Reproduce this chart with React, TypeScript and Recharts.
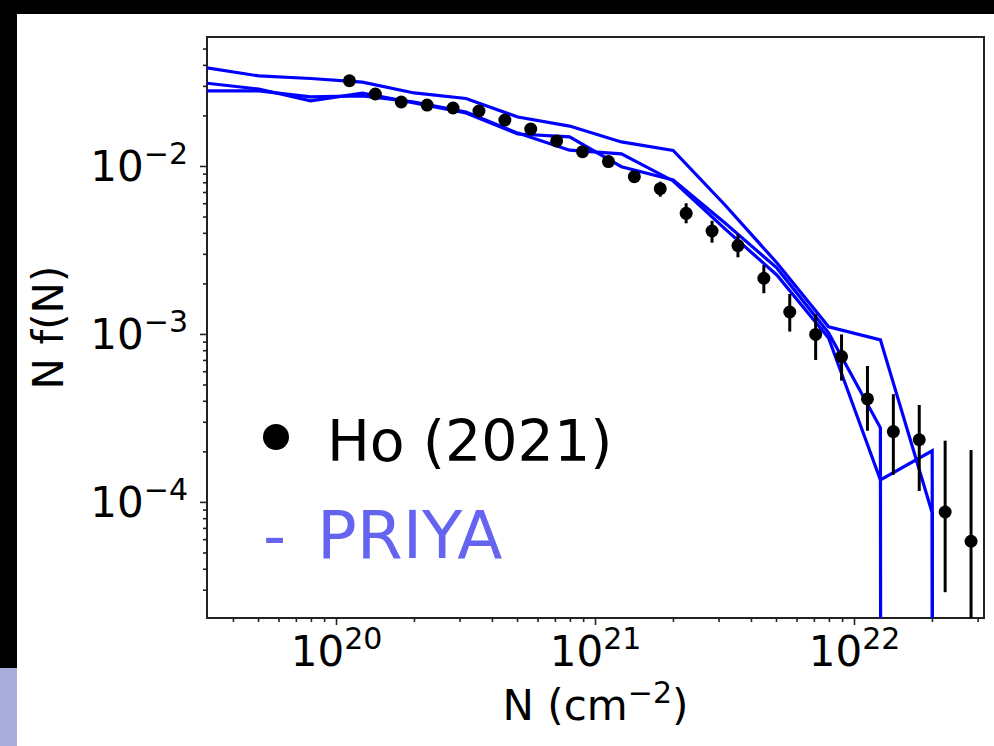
import React from 'react';
import { ComposedChart, Line, Scatter, XAxis, YAxis, ErrorBar, ReferenceArea, Label } from 'recharts';

// Ho (2021) measurements: log10 N, N f(N), and the error bar ends
const hoLogN = [20.05, 20.15, 20.25, 20.35, 20.45, 20.55, 20.65, 20.75, 20.85, 20.95, 21.05, 21.15, 21.25,
  21.35, 21.45, 21.55, 21.65, 21.75, 21.85, 21.95, 22.05, 22.15, 22.25, 22.35, 22.45];
const hoF = [0.0324, 0.027, 0.0242, 0.0232, 0.0223, 0.0214, 0.0189, 0.0167, 0.0142, 0.01225, 0.0107, 0.00869,
  0.00738, 0.00526, 0.00413, 0.00338, 0.00216, 0.00136, 0.001, 0.000738, 0.000413, 0.000264, 0.000236,
  0.0000877, 0.0000587];
const hoLo = [0.031, 0.0259, 0.0233, 0.0223, 0.0214, 0.0205, 0.0181, 0.0159, 0.0134, 0.0114, 0.01, 0.00801,
  0.00661, 0.00459, 0.00352, 0.00288, 0.00176, 0.00104, 0.000705, 0.000531, 0.000267, 0.000146, 0.000117,
  0.0000292, 0.0000205];
const hoHi = [0.0338, 0.0281, 0.0251, 0.0241, 0.0232, 0.0223, 0.0197, 0.0175, 0.015, 0.0131, 0.0114, 0.0094,
  0.00812, 0.00604, 0.00475, 0.00394, 0.00259, 0.00174, 0.00132, 0.001, 0.000649, 0.000441, 0.00038,
  0.000233, 0.000205];

// PRIYA simulation curves (0 = empty bin)
const priyaLogN = [19.5, 19.7, 19.9, 20.1, 20.3, 20.5, 20.7, 20.9, 21.1, 21.3, 21.5, 21.7, 21.9, 22.1, 22.3, 22.5];
const priyaA = [0.0386, 0.0346, 0.0334, 0.0318, 0.0274, 0.0254, 0.0197, 0.0174, 0.014, 0.01245, 0.0059, 0.00267,
  0.00111, 0.000928, 0.0000866, 0];
const priyaB = [0.0313, 0.0289, 0.0246, 0.0273, 0.0239, 0.0208, 0.0156, 0.015, 0.00997, 0.00831, 0.00461,
  0.00249, 0.00102, 0.000278, 0, 0];
const priyaC = [0.0282, 0.0282, 0.026, 0.0263, 0.0242, 0.0211, 0.0158, 0.0125, 0.0119, 0.0082, 0.00425,
  0.00226, 0.000953, 0.000136, 0.000203, 0];

const xTicks = [4e19, 5e19, 6e19, 7e19, 8e19, 9e19, 1e20, 2e20, 3e20, 4e20, 5e20, 6e20, 7e20, 8e20, 9e20,
  1e21, 2e21, 3e21, 4e21, 5e21, 6e21, 7e21, 8e21, 9e21, 1e22, 2e22, 3e22];
const yTicks = [3e-5, 4e-5, 5e-5, 6e-5, 7e-5, 8e-5, 9e-5, 1e-4, 2e-4, 3e-4, 4e-4, 5e-4, 6e-4, 7e-4, 8e-4, 9e-4,
  1e-3, 2e-3, 3e-3, 4e-3, 5e-3, 6e-3, 7e-3, 8e-3, 9e-3, 1e-2, 2e-2, 3e-2, 4e-2, 5e-2];

const X_DOMAIN = [10 ** 19.5, 10 ** 22.5];
const Y_DOMAIN = [2.05e-5, 0.059];
const ZERO_FLOOR = 1e-300; // log axis can't show 0, matplotlib clips it the same way

const FONT = '"DejaVu Sans", sans-serif';

const hoData = hoLogN.map((e, i) => ({
  n: 10 ** e,
  f: hoF[i],
  err: [hoF[i] - hoLo[i], hoHi[i] - hoF[i]],
}));
const toLine = (vals: number[]) =>
  priyaLogN.map((e, i) => ({ n: 10 ** e, f: vals[i] > 0 ? vals[i] : ZERO_FLOOR }));
const priyaLines = [toLine(priyaA), toLine(priyaB), toLine(priyaC)];

const isMajor = (v: number) => {
  const l = Math.log10(v);
  return Math.abs(l - Math.round(l)) < 1e-6;
};
const expText = (v: number) => {
  const e = Math.round(Math.log10(v));
  return e < 0 ? `\u2212${-e}` : `${e}`;
};

const XTick = (props: any) => {
  const { x, y, payload } = props;
  const major = isMajor(payload.value);
  return (
    <g>
      <line x1={x} y1={y} x2={x} y2={y + (major ? 7 : 4)} stroke="#222" strokeWidth={1.6} />
      {major && (
        <text x={x} y={y + 48} textAnchor="middle" fontSize={42} fontFamily={FONT} fill="#000">
          <tspan>10</tspan>
          <tspan dy={-17} fontSize={30}>{expText(payload.value)}</tspan>
        </text>
      )}
    </g>
  );
};

const YTick = (props: any) => {
  const { x, y, payload } = props;
  const major = isMajor(payload.value);
  return (
    <g>
      <line x1={x} y1={y} x2={x - (major ? 7 : 4)} y2={y} stroke="#222" strokeWidth={1.6} />
      {major && (
        <text x={x - 19} y={y + 15} textAnchor="end" fontSize={42} fontFamily={FONT} fill="#000">
          <tspan>10</tspan>
          <tspan dy={-17} fontSize={30}>{expText(payload.value)}</tspan>
        </text>
      )}
    </g>
  );
};

const XLabel = (props: any) => {
  const { viewBox } = props;
  return (
    <text x={viewBox.x + viewBox.width / 2} y={viewBox.y + 102} textAnchor="middle" fontSize={42}
      fontFamily={FONT} fill="#000">
      <tspan>N (cm</tspan>
      <tspan dy={-17} fontSize={30}>{'\u22122'}</tspan>
      <tspan dy={17}>)</tspan>
    </text>
  );
};

const YLabel = (props: any) => {
  const { viewBox } = props;
  const cy = viewBox.y + viewBox.height / 2;
  return (
    <text x={63} y={cy} transform={`rotate(-90 63 ${cy})`} textAnchor="middle" fontSize={42}
      fontFamily={FONT} fill="#000">
      N f(N)
    </text>
  );
};

const Dot = (props: any) => <circle cx={props.cx} cy={props.cy} r={6.5} fill="#000" />;

export default function App() {
  return (
    <div style={{ position: 'absolute', left: 0, top: 0, width: 994, height: 746, background: '#fff', overflow: 'hidden' }}>
      <ComposedChart width={994} height={746} margin={{ top: 37, right: 10, bottom: 28, left: 27 }}>
        <XAxis dataKey="n" type="number" scale="log" domain={X_DOMAIN} allowDataOverflow ticks={xTicks}
          interval={0} tick={<XTick />} tickLine={false} tickSize={0} tickMargin={0} axisLine={false} height={100}>
          <Label content={<XLabel />} />
        </XAxis>
        <YAxis dataKey="f" type="number" scale="log" domain={Y_DOMAIN} allowDataOverflow ticks={yTicks}
          interval={0} tick={<YTick />} tickLine={false} tickSize={0} tickMargin={0} axisLine={false} width={180}>
          <Label content={<YLabel />} />
        </YAxis>
        {priyaLines.map((d, i) => (
          <Line key={i} data={d} dataKey="f" type="linear" stroke="#0000ff" strokeWidth={3.2}
            dot={false} activeDot={false} isAnimationActive={false} />
        ))}
        <Scatter data={hoData} dataKey="f" shape={<Dot />} isAnimationActive={false}>
          <ErrorBar dataKey="err" direction="y" width={0} stroke="#000" strokeWidth={3} />
        </Scatter>
        <ReferenceArea x1={X_DOMAIN[0]} x2={X_DOMAIN[1]} y1={Y_DOMAIN[0]} y2={Y_DOMAIN[1]}
          fill="none" stroke="#222" strokeWidth={2} />
      </ComposedChart>
      <svg width={994} height={746} style={{ position: 'absolute', left: 0, top: 0, pointerEvents: 'none' }}>
        <circle cx={276} cy={437} r={13} fill="#000" />
        <text x={327} y={461} fontSize={57} fontFamily={FONT} fill="#000">Ho (2021)</text>
        <text x={263} y={558} fontSize={64} fontFamily={FONT} fill="#6464f0">-</text>
        <text x={317} y={558} fontSize={66} fontFamily={FONT} fill="#6464f0">PRIYA</text>
      </svg>
      <div style={{ position: 'absolute', left: 0, top: 0, width: 994, height: 14, background: '#000' }} />
      <div style={{ position: 'absolute', left: 0, top: 0, width: 17, height: 668, background: '#000' }} />
      <div style={{ position: 'absolute', left: 0, top: 668, width: 17, height: 78, background: '#a9addc' }} />
    </div>
  );
}
